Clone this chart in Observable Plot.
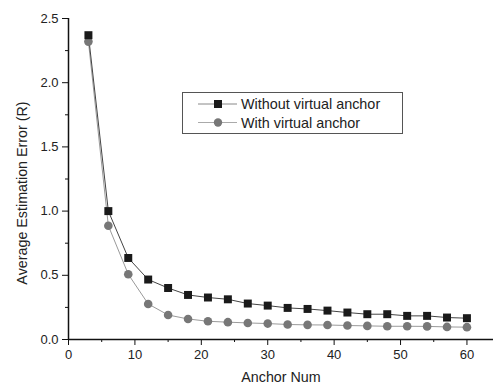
<!DOCTYPE html>
<html><head><meta charset="utf-8">
<script src="https://cdn.jsdelivr.net/npm/d3@7"></script>
<script src="https://cdn.jsdelivr.net/npm/@observablehq/plot@0.6"></script>
<style>
body{margin:0;background:#fff;}
#wrap{position:relative;width:493px;height:386px;font-family:"Liberation Sans",Arial,Helvetica,sans-serif;}
#legend{position:absolute;left:182px;top:92px;width:221px;height:42px;border:1px solid #555;background:#fff;box-sizing:border-box;}
</style></head><body><div id="wrap"></div>
<script>
const anchorNum = [3,6,9,12,15,18,21,24,27,30,33,36,39,42,45,48,51,54,57,60];
const withoutVirtual = [2.37,1.00,0.635,0.467,0.401,0.347,0.327,0.313,0.280,0.264,0.246,0.238,0.225,0.210,0.197,0.197,0.184,0.184,0.171,0.166];
const withVirtual = [2.32,0.886,0.508,0.277,0.191,0.160,0.142,0.135,0.129,0.124,0.117,0.114,0.113,0.109,0.106,0.103,0.103,0.102,0.098,0.096];
const seriesNames = ["Without virtual anchor","With virtual anchor"];
const xTitle = "Anchor Num";
const yTitle = "Average Estimation Error (R)";
const xTicks = [0,10,20,30,40,50,60];
const xMinorTicks = [5,15,25,35,45,55];
const yTicks = [0,0.5,1,1.5,2,2.5];
const yMinorTicks = [0.25,0.75,1.25,1.75,2.25];

const rowsA = anchorNum.map((x,i)=>({x, y: withoutVirtual[i], s: seriesNames[0]}));
const rowsB = anchorNum.map((x,i)=>({x, y: withVirtual[i], s: seriesNames[1]}));

const font = '"Liberation Sans",Arial,Helvetica,sans-serif';
const plot = Plot.plot({
  width: 493, height: 386,
  marginLeft: 68, marginRight: 0, marginTop: 18, marginBottom: 47,
  style: {fontFamily: font, fontSize: "13px", color: "#222", background: "#fff", overflow: "visible"},
  x: {domain: [0, 64]},
  y: {domain: [0, 2.5]},
  marks: [
    Plot.axisX({ticks: xTicks, tickSize: 6, tickPadding: 4, tickFormat: d => d, label: null, fontSize: 13, stroke: "#111"}),
    Plot.axisX({ticks: xMinorTicks, tickSize: 3, tickFormat: () => "", label: null, stroke: "#111"}),
    Plot.axisY({ticks: yTicks, tickSize: 6, tickPadding: 4, tickFormat: d3.format(".1f"), label: null, fontSize: 13, stroke: "#111"}),
    Plot.axisY({ticks: yMinorTicks, tickSize: 3, tickFormat: () => "", label: null, stroke: "#111"}),
    Plot.ruleY([0], {stroke: "#111", strokeWidth: 1.5}),
    Plot.ruleX([0], {stroke: "#111", strokeWidth: 1.5}),
    Plot.text([xTitle], {text: d => d, frameAnchor: "bottom", dy: 42, fontSize: 14.3, fill: "#222"}),
    Plot.text([yTitle], {text: d => d, frameAnchor: "left", textAnchor: "middle", rotate: -90, dx: -46, dy: 14, fontSize: 14.3, fill: "#222"}),
    Plot.line(rowsB, {x: "x", y: "y", stroke: "#9a9a9a", strokeWidth: 1}),
    Plot.line(rowsA, {x: "x", y: "y", stroke: "#444", strokeWidth: 1}),
    Plot.dot(rowsB, {x: "x", y: "y", r: 4.3, fill: "#777", stroke: "none", symbol: "circle"}),
    Plot.dot(rowsA, {x: "x", y: "y", r: 4.5, fill: "#1a1a1a", stroke: "none", symbol: "square"})
  ]
});
const wrap = document.getElementById("wrap");
wrap.appendChild(plot);

// legend
const leg = document.createElement("div");
leg.id = "legend";
wrap.appendChild(leg);
const ls = d3.select(leg).append("svg").attr("width", 219).attr("height", 40).style("display","block");
const lineColors = ["#888", "#aaa"];
seriesNames.forEach((name, i) => {
  const cy = 11 + i * 18.5;
  ls.append("line").attr("x1", 15).attr("x2", 54).attr("y1", cy).attr("y2", cy).attr("stroke", lineColors[i]).attr("stroke-width", 1);
  if (i === 0) {
    ls.append("rect").attr("x", 31).attr("y", cy - 4).attr("width", 8).attr("height", 8).attr("fill", "#1a1a1a");
  } else {
    ls.append("circle").attr("cx", 35).attr("cy", cy).attr("r", 4.2).attr("fill", "#777");
  }
  ls.append("text").attr("x", 58).attr("y", cy).attr("dy", "0.35em").attr("font-size", 14.4).attr("fill", "#222")
    .attr("font-family", font).text(name);
});
</script>
</body></html>
